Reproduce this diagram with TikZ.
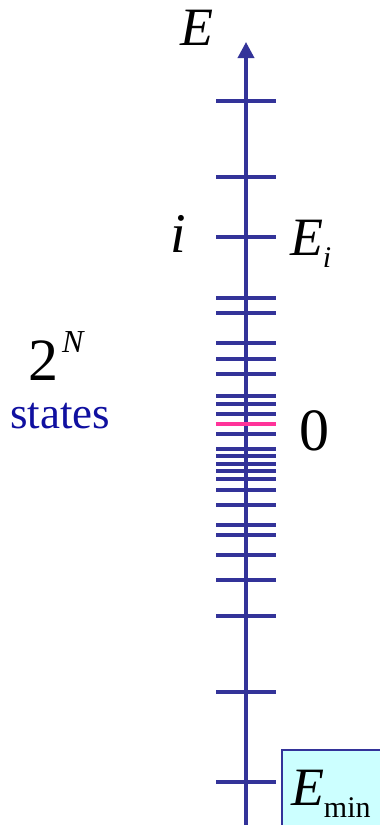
\documentclass[tikz,border=0pt]{standalone}
\usepackage{fontspec}
\setmainfont{Liberation Serif}
\usetikzlibrary{arrows.meta}
\definecolor{axblue}{RGB}{51,51,153}
\definecolor{zpink}{RGB}{255,51,153}
\definecolor{stblue}{RGB}{16,16,160}
\definecolor{boxcyan}{RGB}{204,255,255}
\begin{document}
\begin{tikzpicture}[x=1pt,y=-1pt,
  lbl/.style={inner sep=0pt, outer sep=0pt, anchor=base},
  levtick/.style={draw=axblue, line width=3.5pt},
  zerotick/.style={draw=zpink, line width=3.5pt},
  axisline/.style={draw=axblue, line width=3.5pt, -{Triangle[width=16pt,length=16pt]}},
  bigfont/.style={font=\fontsize{54}{60}\selectfont}]
\useasboundingbox (0,0) rectangle (380,825);
% axis
\coordinate (axbot) at (246,826);
\coordinate (axtop) at (246,42);
\draw[axisline] (axbot) -- (axtop);
% ticks
\foreach \y in {101,177,237,298,313,343,359,374,396,404,414,434,449,456,464,471,479,490,505,525,535,555,580,616,692,782}
  \draw[levtick] (216,\y) -- (276,\y);
\draw[zerotick] (216,424) -- (276,424);
% labels
\node[lbl, bigfont] (Elab) at (197,45) {\textit{E}};
\node[lbl, font=\fontsize{56}{60}\selectfont] (ilab) at (178,252) {\textit{i}};
\node[lbl, anchor=base west, bigfont] (Ei) at (290,255) {\textit{E}\raisebox{-12pt}{\fontsize{30}{34}\selectfont\textit{i}}};
\node[lbl, font=\fontsize{60}{64}\selectfont] (zero) at (314,450) {0};
\node[lbl, anchor=base west, font=\fontsize{60}{64}\selectfont] (twoN) at (28,380) {2\kern4pt\raisebox{28pt}{\fontsize{32}{36}\selectfont\textit{N}}};
\node[lbl, text=stblue, font=\fontsize{45}{50}\selectfont] (states) at (60,428) {states};
% E_min box
\filldraw[draw=axblue, fill=boxcyan, line width=1.5pt] (282,750) rectangle (392,835);
\node[lbl, anchor=base west, bigfont] (Emin) at (291,805) {\textit{E}\raisebox{-12pt}{\fontsize{30}{34}\selectfont min}};
\end{tikzpicture}
\end{document}
